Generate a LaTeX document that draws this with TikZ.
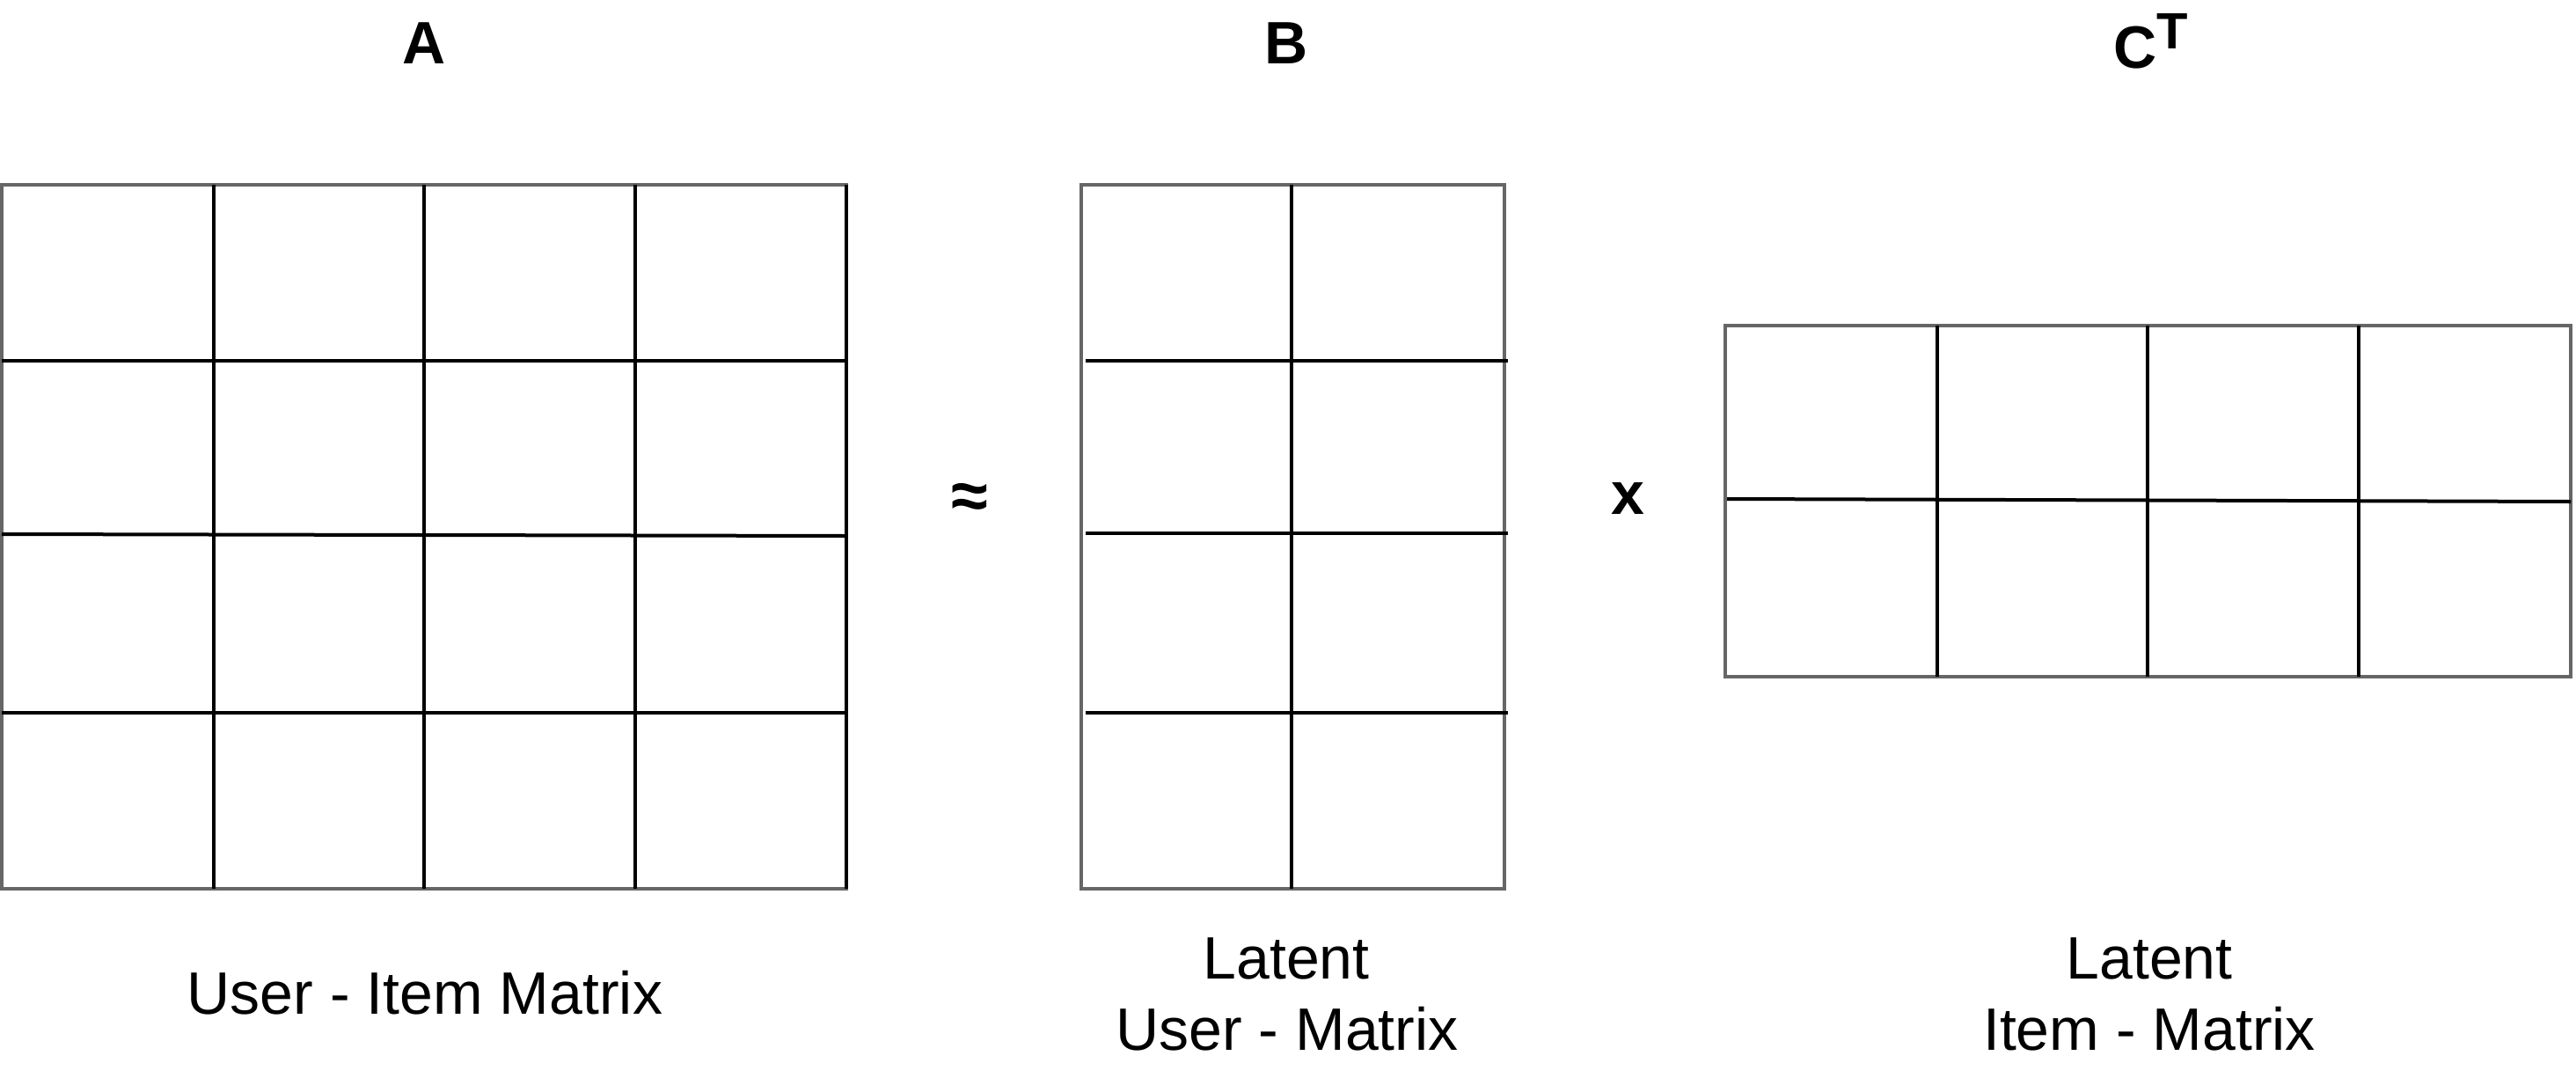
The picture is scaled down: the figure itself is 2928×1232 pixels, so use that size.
\documentclass[tikz,border=0pt]{standalone}
\usepackage{fontspec}
\setmainfont{Liberation Sans}
\definecolor{bordergray}{HTML}{666666}
\tikzset{
  matborder/.style={draw=bordergray, line width=2pt},
  gridline/.style={draw=black, line width=2pt},
  titletext/.style={font=\fontsize{34}{40}\selectfont\bfseries, inner sep=0pt},
  captext/.style={font=\fontsize{34}{40}\selectfont, inner sep=0pt, anchor=base},
}
\begin{document}
\begin{tikzpicture}[x=0.5pt, y=-0.5pt]
\useasboundingbox (0,0) rectangle (2928,1232);
% Matrix A
\draw[matborder] (2,210) rectangle (962,1010);
\draw[gridline] (243,210) -- (243,1010);
\draw[gridline] (482,210) -- (482,1010);
\draw[gridline] (722,210) -- (722,1010);
\draw[gridline] (962,210) -- (962,1010);
\draw[gridline] (2,410) -- (962,410);
\draw[gridline] (2,607) -- (962,609);
\draw[gridline] (2,810) -- (962,810);
% Matrix B
\draw[matborder] (1229,210) rectangle (1710,1010);
\draw[gridline] (1468,210) -- (1468,1010);
\draw[gridline] (1234,410) -- (1714,410);
\draw[gridline] (1234,606) -- (1714,606);
\draw[gridline] (1234,810) -- (1714,810);
% Matrix C
\draw[matborder] (1961,370) rectangle (2922,769);
\draw[gridline] (2202,370) -- (2202,769);
\draw[gridline] (2441,370) -- (2441,769);
\draw[gridline] (2681,370) -- (2681,769);
\draw[gridline] (1963,567) -- (2922,570);
% Titles
\node[titletext, anchor=base] (tA) at (482,72) {A};
\node[titletext, anchor=base] (tB) at (1462,72) {B};
\node[titletext, anchor=base] (tC) at (2445,77) {C\raisebox{11pt}{\fontsize{29}{30}\selectfont T}};
% Operators
\node[titletext, anchor=center] (approx) at (1102,569) {\fontsize{38}{40}\selectfont ≈};
\node[titletext, anchor=center] (times) at (1850,567) {x};
% Captions
\node[captext] (capA) at (483,1152) {User - Item Matrix};
\node[captext] (capB1) at (1462,1112) {Latent};
\node[captext] (capB2) at (1463,1193) {User - Matrix};
\node[captext] (capC1) at (2443,1112) {Latent};
\node[captext] (capC2) at (2443,1193) {Item - Matrix};
\end{tikzpicture}
\end{document}
